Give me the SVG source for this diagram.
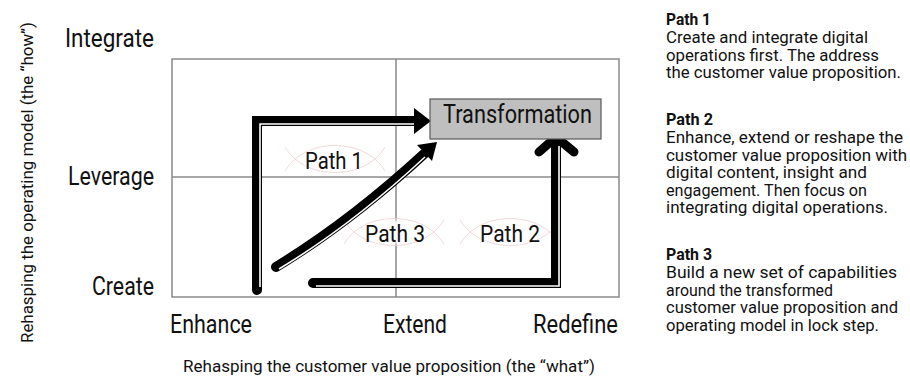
<svg xmlns="http://www.w3.org/2000/svg" width="910" height="380" viewBox="0 0 910 380">
  <style>
    text { font-family: Roboto, "DejaVu Sans", "Liberation Sans", sans-serif; fill: #111; }
    .axis { font-size: 25px; }
    .title { font-size: 17px; }
    .lbl { font-size: 23px; }
    .note { font-size: 16px; }
    .head { font-size: 16px; font-weight: bold; }
    .grid { fill: none; stroke: #8a8a8a; stroke-width: 1.5; }
    .thick { fill: none; stroke: #000; stroke-width: 10; }
    .inner { fill: none; stroke: #fff; stroke-width: 1.6; }
    .lens { fill: none; stroke: #ecd0d0; stroke-width: 1; opacity: 0.8; }
  </style>
  <defs>
    <radialGradient id="glow">
      <stop offset="0" stop-color="#fff" stop-opacity="1"/>
      <stop offset="0.7" stop-color="#fff" stop-opacity="0.9"/>
      <stop offset="1" stop-color="#fff" stop-opacity="0"/>
    </radialGradient>
  </defs>

  <rect width="910" height="380" fill="#fff"/>

  <!-- matrix grid -->
  <g id="grid">
    <rect class="grid" x="172" y="59" width="447" height="238"/>
    <line class="grid" x1="396" y1="59" x2="396" y2="297"/>
    <line class="grid" x1="172" y1="177" x2="619" y2="177"/>
  </g>

  <!-- axis labels -->
  <g id="axes">
    <text class="axis" x="65" y="47" textLength="89" lengthAdjust="spacingAndGlyphs">Integrate</text>
    <text class="axis" x="68" y="185" textLength="86" lengthAdjust="spacingAndGlyphs">Leverage</text>
    <text class="axis" x="92" y="295" textLength="62" lengthAdjust="spacingAndGlyphs">Create</text>
    <text class="axis" x="170" y="333" textLength="82" lengthAdjust="spacingAndGlyphs">Enhance</text>
    <text class="axis" x="383" y="333" textLength="64" lengthAdjust="spacingAndGlyphs">Extend</text>
    <text class="axis" x="533" y="333" textLength="85" lengthAdjust="spacingAndGlyphs">Redefine</text>
    <text class="title" x="183" y="372" textLength="412" lengthAdjust="spacingAndGlyphs">Rehasping the customer value proposition (the “what”)</text>
    <text class="title" transform="translate(33,343) rotate(-90)" x="0" y="0" textLength="321" lengthAdjust="spacingAndGlyphs">Rehasping the operating model (the “how”)</text>
  </g>

  <!-- path label backgrounds -->
  <g id="label-glows">
    <ellipse cx="335" cy="159" rx="46" ry="14" fill="url(#glow)"/>
    <ellipse cx="394" cy="232" rx="46" ry="14" fill="url(#glow)"/>
    <ellipse cx="510" cy="232" rx="46" ry="14" fill="url(#glow)"/>
    <path class="lens" d="M285,147 C305,181 365,181 385,147 M285,171 C305,137 365,137 385,171"/>
    <path class="lens" d="M344,220 C364,254 424,254 444,220 M344,244 C364,210 424,210 444,244"/>
    <path class="lens" d="M460,220 C480,254 540,254 560,220 M460,244 C480,210 540,210 560,244"/>
  </g>

  <!-- connectors -->
  <g id="connectors">
    <!-- path 1 -->
    <path class="thick" d="M257,290 V121 H417" stroke-linecap="round" stroke-linejoin="miter"/>
    <path class="inner" d="M260,287 V124 H414"/>
    <polygon points="414,108 431,121 414,134" fill="#000"/>
    <!-- path 3 -->
    <path class="thick" d="M276,267 Q350,222 424,154" stroke-linecap="round"/>
    <path class="inner" d="M279,269 Q352,225 425,157"/>
    <polygon points="417,145 437,142 432,161" fill="#000"/>
    <!-- path 2 -->
    <path class="thick" d="M313,283 H556 V142" stroke-linecap="round" stroke-linejoin="miter"/>
    <path class="inner" d="M316,286 H559 V146"/>
    <path d="M539,152 L556,137 L574,152" fill="none" stroke="#000" stroke-width="9" stroke-linecap="round" stroke-linejoin="round"/>
  </g>

  <!-- target node -->
  <g id="transformation">
    <rect x="430" y="99" width="171" height="40" fill="#bfbfbf" stroke="#595959" stroke-width="1.2"/>
    <text x="443" y="123" font-size="26" textLength="149" lengthAdjust="spacingAndGlyphs">Transformation</text>
  </g>

  <!-- path labels -->
  <g id="path-labels">
    <text class="lbl" x="305" y="169" textLength="58" lengthAdjust="spacingAndGlyphs">Path 1</text>
    <text class="lbl" x="365" y="242" textLength="60" lengthAdjust="spacingAndGlyphs">Path 3</text>
    <text class="lbl" x="480" y="242" textLength="60" lengthAdjust="spacingAndGlyphs">Path 2</text>
  </g>

  <!-- legend notes -->
  <g id="notes">
    <text class="head" x="666" y="25" textLength="45" lengthAdjust="spacingAndGlyphs">Path 1</text>
    <text class="note" x="666" y="43" textLength="202" lengthAdjust="spacingAndGlyphs">Create and integrate digital</text>
    <text class="note" x="666" y="60.5" textLength="213" lengthAdjust="spacingAndGlyphs">operations first. The address</text>
    <text class="note" x="666" y="78" textLength="235" lengthAdjust="spacingAndGlyphs">the customer value proposition.</text>

    <text class="head" x="666" y="125" textLength="47" lengthAdjust="spacingAndGlyphs">Path 2</text>
    <text class="note" x="666" y="143" textLength="237" lengthAdjust="spacingAndGlyphs">Enhance, extend or reshape the</text>
    <text class="note" x="666" y="160.5" textLength="241" lengthAdjust="spacingAndGlyphs">customer value proposition with</text>
    <text class="note" x="666" y="178" textLength="201" lengthAdjust="spacingAndGlyphs">digital content, insight and</text>
    <text class="note" x="666" y="195.5" textLength="201" lengthAdjust="spacingAndGlyphs">engagement. Then focus on</text>
    <text class="note" x="666" y="213" textLength="222" lengthAdjust="spacingAndGlyphs">integrating digital operations.</text>

    <text class="head" x="666" y="260" textLength="46" lengthAdjust="spacingAndGlyphs">Path 3</text>
    <text class="note" x="666" y="278" textLength="231" lengthAdjust="spacingAndGlyphs">Build a new set of capabilities</text>
    <text class="note" x="666" y="295.5" textLength="167" lengthAdjust="spacingAndGlyphs">around the transformed</text>
    <text class="note" x="666" y="313" textLength="232" lengthAdjust="spacingAndGlyphs">customer value proposition and</text>
    <text class="note" x="666" y="330.5" textLength="213" lengthAdjust="spacingAndGlyphs">operating model in lock step.</text>
  </g>
</svg>
